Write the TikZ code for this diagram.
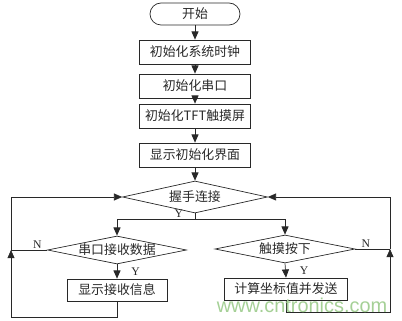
\documentclass[tikz,border=0pt]{standalone}
\usepackage{fontspec}
\setmainfont{Liberation Serif}
\newfontfamily\cjk{Noto Sans CJK SC}
\newfontfamily\wmfont{Liberation Sans}
\usetikzlibrary{shapes.geometric, arrows.meta, positioning}
\definecolor{lineclr}{RGB}{40,40,40}
\definecolor{wmgreen}{RGB}{165,208,150}

\begin{document}
\begin{tikzpicture}[x=0.03cm, y=-0.03cm,
    box/.style={draw=lineclr, line width=0.6pt, rectangle, inner sep=0pt,
        minimum width=3.33cm, minimum height=0.72cm, text=lineclr,
        font=\cjk\fontsize{11}{13}\selectfont},
    startbox/.style={box, minimum width=2.7cm, minimum height=0.66cm, rounded corners=0.33cm},
    decision/.style={box, diamond, aspect=5, minimum height=0.84cm},
    arr/.style={draw=lineclr, line width=0.6pt, -{Triangle[length=7pt,width=6pt]}},
    line/.style={draw=lineclr, line width=0.6pt},
    lbl/.style={font=\fontsize{10}{12}\selectfont, text=lineclr, inner sep=1pt}]

    \useasboundingbox (0,0) rectangle (402,321);

    % main column
    \node[startbox] (st) at (195,14) {开始};
    \node[box] (clk) at (195,52) {初始化系统时钟};
    \node[box] (uart) at (195,86) {初始化串口};
    \node[box] (tft) at (195,116) {初始化TFT触摸屏};
    \node[box] (ui) at (195,155) {显示初始化界面};
    \node[decision, minimum width=4.35cm, minimum height=0.96cm] (hs) at (195,197) {握手连接};

    % two branches
    \node[decision, minimum width=4.17cm] (rx) at (117,250) {串口接收数据};
    \node[decision, minimum width=4.2cm] (tp) at (285,249) {触摸按下};
    \node[box, minimum width=3cm, minimum height=0.66cm] (disp) at (117,290) {显示接收信息};
    \node[box, minimum width=3.69cm, minimum height=0.66cm] (calc) at (286,289) {计算坐标值并发送};

    % loop points
    \coordinate (fork) at (195,219);
    \coordinate (lj) at (11,250);
    \coordinate (lb) at (11,317);
    \coordinate (rj) at (390,249);
    \coordinate (rb) at (390,312);

    % connections
    \draw[arr] (st) -- (clk);
    \draw[arr] (clk) -- (uart);
    \draw[arr] (uart) -- (tft);
    \draw[arr] (tft) -- (ui);
    \draw[arr] (ui) -- (hs);
    \draw[line] (hs.south) -- (fork);
    \node[lbl, above left=0.5pt and 9pt of fork] (ylbl) {Y};
    \draw[arr] (fork) -| (rx.north);
    \draw[arr] (fork) -| (tp.north);
    \draw[arr] (rx.south) -- node[lbl, right=11pt] {Y} (disp.north);
    \draw[arr] (tp.south) -- node[lbl, right=11pt] {Y} (calc.north);

    % left loop
    \draw[line] (rx.west) -- node[lbl, above, pos=0.27] {N} (lj);
    \draw[arr] (disp.south) |- (lb) -- (lj);
    \draw[arr] (lj) |- (hs.west);

    % right loop
    \draw[line] (tp.east) -- node[lbl, above, pos=0.3] {N} (rj);
    \draw[arr] (calc.south) |- (rb) -- (rj);
    \draw[arr] (rj) |- (hs.east);

    % watermark
    \node[text=wmgreen, inner sep=0pt, font=\wmfont\fontsize{17}{17}\selectfont] (wm) at (302,305) {www.cntronics.com};
\end{tikzpicture}
\end{document}
